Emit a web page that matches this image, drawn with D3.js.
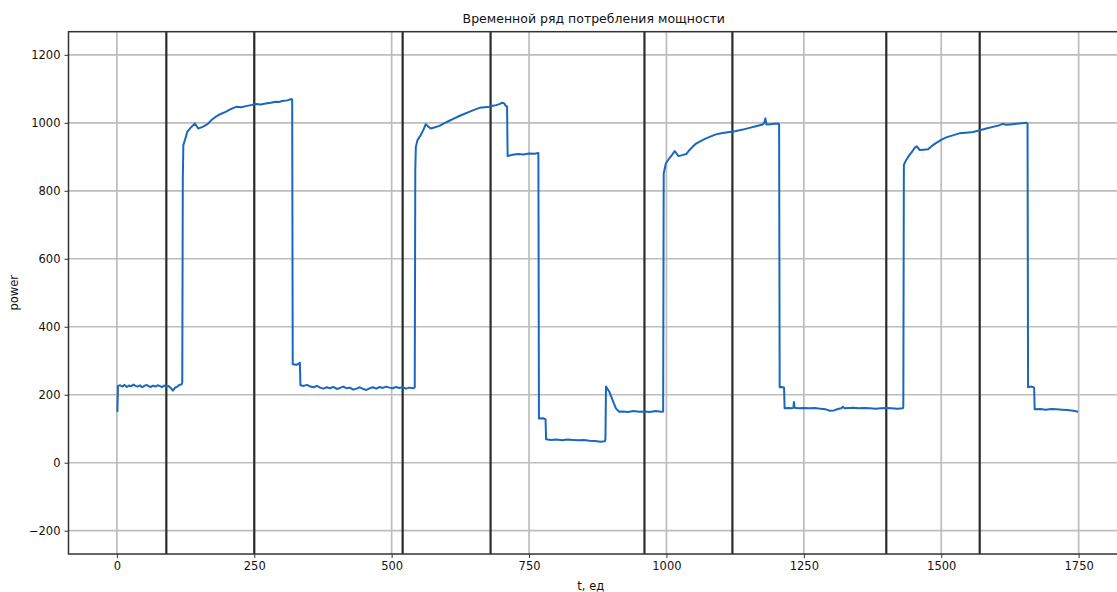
<!DOCTYPE html>
<html>
<head>
<meta charset="utf-8">
<script src="https://cdn.jsdelivr.net/npm/d3@7"></script>
<style>
    body { margin: 0; background: #ffffff; }
    svg { display: block; font-family: "DejaVu Sans", sans-serif; }
</style>
</head>
<body>
<svg id="chart" width="1117" height="592"></svg>
<script>

var chartTitle = "Временной ряд потребления мощности"
var xLabel = "t, ед"
var yLabel = "power"

var xTicks = [0, 250, 500, 750, 1000, 1250, 1500, 1750]
var yTicks = [-200, 0, 200, 400, 600, 800, 1000, 1200]

// границы циклов (вертикальные линии)
var cycleBorders = [90, 250, 520, 680, 960, 1120, 1400, 1570]

// [t, power]
var firstCycle = [
    [0, 150], [1, 152], [2, 226], [6, 228], [10, 224], [14, 229], [18, 223], [22, 227], [26, 225], [30, 230],
    [34, 226], [38, 224], [42, 228], [46, 222], [50, 226], [54, 229], [58, 225], [62, 223], [66, 227], [70, 224],
    [74, 228], [78, 226], [82, 222], [86, 227], [90, 224], [94, 226], [98, 220], [102, 212], [106, 221], [110, 224],
    [114, 229], [118, 231], [119, 236], [120, 840], [121, 935], [124, 950], [128, 973], [134, 985], [142, 998],
    [148, 983], [156, 988], [165, 996], [172, 1008], [180, 1018], [189, 1026], [198, 1032], [207, 1040], [217, 1047],
    [226, 1046], [235, 1049], [244, 1052], [253, 1055], [262, 1054], [271, 1057], [280, 1059], [289, 1062],
    [295, 1061], [301, 1064], [310, 1066], [318, 1070], [319, 1068], [320, 290], [327, 288], [333, 294], [334, 228],
    [340, 226], [346, 229], [352, 224], [358, 222], [364, 226], [370, 221], [376, 218], [382, 222], [388, 219],
    [394, 223], [400, 217], [406, 220], [412, 224], [418, 219], [424, 221], [430, 215], [436, 218], [442, 222],
    [448, 217], [454, 214], [460, 219], [466, 222], [472, 218], [478, 223], [484, 220], [490, 224], [496, 221],
    [502, 219], [508, 223], [514, 220], [520, 222], [526, 218], [532, 221], [538, 219], [542, 221]
]

var secondCycle = [
    [543, 860], [544, 929], [547, 949], [553, 964], [558, 980], [562, 996], [566, 990], [571, 983], [579, 987],
    [587, 991], [596, 999], [605, 1006], [614, 1013], [623, 1020], [632, 1026], [641, 1032], [650, 1038],
    [660, 1044], [669, 1046], [678, 1047], [684, 1050], [690, 1052], [696, 1055], [701, 1059], [705, 1057],
    [708, 1049], [710, 1048], [711, 902], [720, 906], [730, 908], [740, 907], [750, 910], [760, 909], [767, 911],
    [768, 130], [775, 131], [780, 128], [781, 69], [790, 67], [800, 68], [810, 66], [820, 68], [830, 67], [840, 66],
    [850, 67], [860, 65], [870, 64], [880, 62], [888, 63], [889, 70], [890, 224], [896, 209], [902, 184], [908, 160],
    [914, 150], [920, 151], [930, 149], [940, 152], [950, 150], [960, 151], [970, 149], [980, 152], [990, 150], [994, 151]
]

var thirdCycle = [
    [995, 851], [999, 881], [1005, 895], [1010, 905], [1015, 917], [1022, 902], [1029, 905], [1036, 908],
    [1042, 920], [1048, 930], [1054, 939], [1063, 947], [1072, 954], [1081, 960], [1090, 966], [1102, 970],
    [1115, 973], [1127, 976], [1139, 980], [1151, 985], [1163, 990], [1175, 995], [1178, 1000], [1180, 1013],
    [1182, 995], [1190, 996], [1197, 997], [1203, 998], [1205, 996], [1206, 222], [1210, 223], [1214, 221],
    [1215, 160], [1222, 161], [1228, 160], [1231, 162], [1232, 179], [1233, 162], [1240, 160], [1250, 161],
    [1260, 160], [1270, 161], [1280, 159], [1290, 157], [1297, 153], [1305, 154], [1312, 158], [1318, 160],
    [1321, 165], [1324, 160], [1332, 161], [1340, 162], [1350, 160], [1360, 161], [1370, 160], [1380, 159],
    [1390, 160], [1400, 161], [1410, 160], [1420, 159], [1430, 160], [1431, 165]
]

var fourthCycle = [
    [1432, 876], [1436, 890], [1442, 905], [1447, 915], [1451, 925], [1455, 931], [1461, 920], [1468, 921],
    [1476, 922], [1483, 932], [1491, 941], [1500, 950], [1509, 957], [1521, 963], [1533, 969], [1545, 971],
    [1558, 973], [1570, 978], [1582, 983], [1594, 988], [1606, 993], [1612, 997], [1618, 994], [1630, 996],
    [1642, 998], [1655, 1000], [1657, 998], [1658, 222], [1664, 224], [1669, 221], [1670, 157], [1680, 158],
    [1690, 156], [1700, 158], [1710, 157], [1720, 156], [1730, 155], [1740, 153], [1749, 150]
]

var powerSeries = firstCycle.concat(secondCycle, thirdCycle, fourthCycle)

var plot = { left: 68.5, top: 31.7, right: 1127, bottom: 554 }

var svg = d3.select("#chart")

var x = d3.scaleLinear().domain([-88, 1838]).range([plot.left, plot.right])
var y = d3.scaleLinear().domain([-268.5, 1268]).range([plot.bottom, plot.top])

svg.append("defs").append("clipPath").attr("id", "plotClip")
    .append("rect")
    .attr("x", plot.left)
    .attr("y", plot.top)
    .attr("width", plot.right - plot.left)
    .attr("height", plot.bottom - plot.top)

function drawGrid(container) {
    var grid = container.append("g").attr("clip-path", "url(#plotClip)")

    grid.selectAll("line.gridY").data(yTicks).enter().append("line")
        .attr("class", "gridY")
        .attr("x1", plot.left).attr("x2", plot.right)
        .attr("y1", function (d) { return y(d) }).attr("y2", function (d) { return y(d) })
        .attr("stroke", "#bdbdbd")
        .attr("stroke-width", 1.7)

    grid.selectAll("line.gridX").data(xTicks).enter().append("line")
        .attr("class", "gridX")
        .attr("y1", plot.top).attr("y2", plot.bottom)
        .attr("x1", function (d) { return x(d) }).attr("x2", function (d) { return x(d) })
        .attr("stroke", "#bdbdbd")
        .attr("stroke-width", 1.7)
}

function drawCycleBorders(container) {
    container.append("g").attr("clip-path", "url(#plotClip)")
        .selectAll("line").data(cycleBorders).enter().append("line")
        .attr("x1", function (d) { return x(d) }).attr("x2", function (d) { return x(d) })
        .attr("y1", plot.top).attr("y2", plot.bottom)
        .attr("stroke", "#2b2b2b")
        .attr("stroke-width", 2.2)
}

function drawSeries(container) {
    var line = d3.line()
        .x(function (d) { return x(d[0]) })
        .y(function (d) { return y(d[1]) })

    container.append("path")
        .datum(powerSeries)
        .attr("clip-path", "url(#plotClip)")
        .attr("d", line)
        .attr("fill", "none")
        .attr("stroke", "#1a67bd")
        .attr("stroke-width", 2)
        .attr("stroke-linejoin", "round")
}

function drawAxes(container) {
    var xAxis = container.append("g")
        .attr("transform", "translate(0," + plot.bottom + ")")
        .call(d3.axisBottom(x).tickValues(xTicks).tickSize(4).tickPadding(4).tickFormat(d3.format("d")))

    var yAxis = container.append("g")
        .attr("transform", "translate(" + plot.left + ",0)")
        .call(d3.axisLeft(y).tickValues(yTicks).tickSize(4).tickPadding(4).tickFormat(function (d) {
            return d < 0 ? "\u2212" + Math.abs(d) : d
        }))

    ;[xAxis, yAxis].forEach(function (axis) {
        axis.select(".domain").remove()
        axis.selectAll("text").attr("font-family", "DejaVu Sans").attr("font-size", 11.5).attr("fill", "#111")
        axis.selectAll("line").attr("stroke", "#333").attr("stroke-width", 1)
    })

    container.append("rect")
        .attr("x", plot.left)
        .attr("y", plot.top)
        .attr("width", plot.right - plot.left)
        .attr("height", plot.bottom - plot.top)
        .attr("fill", "none")
        .attr("stroke", "#333")
        .attr("stroke-width", 1.5)
}

function drawLabels(container) {
    var center = (plot.left + plot.right) / 2 - 4

    container.append("text")
        .attr("x", center)
        .attr("y", 23)
        .attr("text-anchor", "middle")
        .attr("font-size", 12.5)
        .attr("fill", "#111")
        .text(chartTitle)

    container.append("text")
        .attr("x", center - 3)
        .attr("y", 590)
        .attr("text-anchor", "middle")
        .attr("font-size", 11.5)
        .attr("fill", "#111")
        .text(xLabel)

    container.append("text")
        .attr("transform", "translate(18," + (plot.top + plot.bottom) / 2 + ") rotate(-90)")
        .attr("text-anchor", "middle")
        .attr("font-size", 11.5)
        .attr("fill", "#111")
        .text(yLabel)
}

drawGrid(svg)
drawCycleBorders(svg)
drawSeries(svg)
drawAxes(svg)
drawLabels(svg)

</script>
</body>
</html>
